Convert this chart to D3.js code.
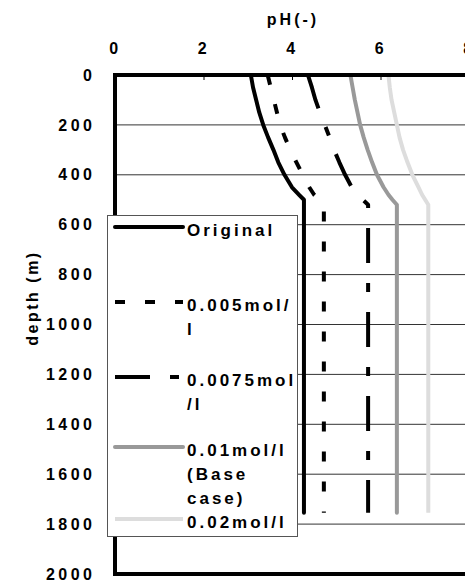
<!DOCTYPE html>
<html><head><meta charset="utf-8">
<script src="https://cdn.jsdelivr.net/npm/d3@7"></script>
<style>
body{margin:0;background:#fff;}
svg{display:block;}
text{font-family:"Liberation Sans",Arial,sans-serif;font-weight:bold;fill:#000;}
</style></head>
<body>
<svg id="c" width="465" height="586"></svg>
<script>
// ---- data ----
const depths = [0,50,100,150,200,250,300,350,400,450,480,500,520,1755];
const phOriginal = [3.07,3.12,3.19,3.26,3.35,3.46,3.58,3.69,3.83,4.00,4.16,4.27,4.27,4.27];
const ph0005 = [3.45,3.52,3.59,3.66,3.73,3.84,3.96,4.10,4.24,4.39,4.50,4.62,4.72,4.72];
const ph00075 = [4.36,4.45,4.53,4.63,4.74,4.85,4.95,5.07,5.20,5.35,5.47,5.60,5.72,5.72];
const ph001 = [5.32,5.37,5.42,5.48,5.54,5.62,5.71,5.81,5.92,6.07,6.18,6.27,6.37,6.37];
const ph002 = [6.18,6.21,6.25,6.31,6.37,6.43,6.51,6.61,6.72,6.86,6.94,7.01,7.08,7.08];
const seriesNames = [["Original"],["0.005mol/","l"],["0.0075mol","/l"],["0.01mol/l","(Base","case)"],["0.02mol/l"]];
const xTicks = [0,2,4,6,8];
const yTicks = [0,200,400,600,800,1000,1200,1400,1600,1800,2000];
const xTitle = "pH(-)";
const yTitle = "depth (m)";

// ---- styles ----
const styles = [
  {color:"#000", dash:null, cap:"round"},
  {color:"#000", dash:"10,20", cap:"butt"},
  {color:"#000", dash:"35,20,9,20", cap:"butt"},
  {color:"#999", dash:null, cap:"round"},
  {color:"#ddd", dash:null, cap:"butt"}
];
const allPh = [phOriginal, ph0005, ph00075, ph001, ph002];

const svg = d3.select("#c");
const x = d3.scaleLinear().domain([0,8]).range([115,469]);
const y = d3.scaleLinear().domain([0,2000]).range([75,574]);

// gridlines
svg.append("g").selectAll("line").data(yTicks.slice(1,-1)).join("line")
  .attr("x1",x(0)).attr("x2",x(8)).attr("y1",d=>y(d)).attr("y2",d=>y(d))
  .attr("stroke","#333").attr("stroke-width",1);

// curves
const line = d3.line().x(d=>x(d[0])).y(d=>y(d[1]));
allPh.forEach((ph,i)=>{
  const pts = ph.map((v,j)=>[v,depths[j]]);
  svg.append("path").attr("d",line(pts)).attr("fill","none")
    .attr("stroke",styles[i].color).attr("stroke-width",4)
    .attr("stroke-linecap",styles[i].cap).attr("stroke-linejoin","round")
    .attr("stroke-dasharray",styles[i].dash);
});

// frame
svg.append("line").attr("x1",x(0)-2).attr("x2",x(8)).attr("y1",y(2000)).attr("y2",y(2000))
  .attr("stroke","#000").attr("stroke-width",4);

// top axis
const gx = svg.append("g").attr("transform",`translate(0,${y(0)})`)
  .call(d3.axisTop(x).tickValues(xTicks).tickFormat(d3.format("d")).tickSizeInner(-5).tickSizeOuter(0).tickPadding(21));
gx.select(".domain").attr("stroke","#000").attr("stroke-width",4).attr("d",`M${x(0)-2},0H${x(8)}`);
gx.selectAll(".tick line").attr("stroke","#000").attr("stroke-width",1);
gx.selectAll(".tick text").attr("font-size",16).style("letter-spacing","3.5px").attr("font-family",null);

// left axis
const gy = svg.append("g").attr("transform",`translate(${x(0)},0)`)
  .call(d3.axisLeft(y).tickValues(yTicks).tickFormat(d3.format("d")).tickSize(0).tickPadding(23));
gy.select(".domain").attr("stroke","#000").attr("stroke-width",4).attr("d",`M0,${y(0)-2}V${y(2000)+2}`);
gy.selectAll(".tick text").attr("font-size",16).style("letter-spacing","3.5px").attr("font-family",null).attr("dx","3.5px");

// titles
svg.append("text").attr("x",293).attr("y",25).attr("text-anchor","middle")
  .attr("font-size",16).style("letter-spacing","3px").text(xTitle);
svg.append("text").attr("transform","translate(38,298) rotate(-90)").attr("text-anchor","middle")
  .attr("font-size",16).style("letter-spacing","2.5px").text(yTitle);

// legend
const lg = svg.append("g");
lg.append("rect").attr("x",107.5).attr("y",215.5).attr("width",190).attr("height",321)
  .attr("fill","#fff").attr("stroke","#555").attr("stroke-width",1);
const entryY = [230,305,380,450,522];
seriesNames.forEach((lines,i)=>{
  const s = styles[i];
  lg.append("line").attr("x1",115).attr("x2",183).attr("y1",entryY[i]-3).attr("y2",entryY[i]-3)
    .attr("stroke",s.color).attr("stroke-width",4).attr("stroke-linecap",s.cap)
    .attr("stroke-dasharray",s.dash);
  lines.forEach((t,k)=>{
    lg.append("text").attr("x",187).attr("y",entryY[i]+k*24).attr("dy","0.36em")
      .attr("font-size",17).style("letter-spacing","3px").text(t);
  });
});
</script>
</body></html>
